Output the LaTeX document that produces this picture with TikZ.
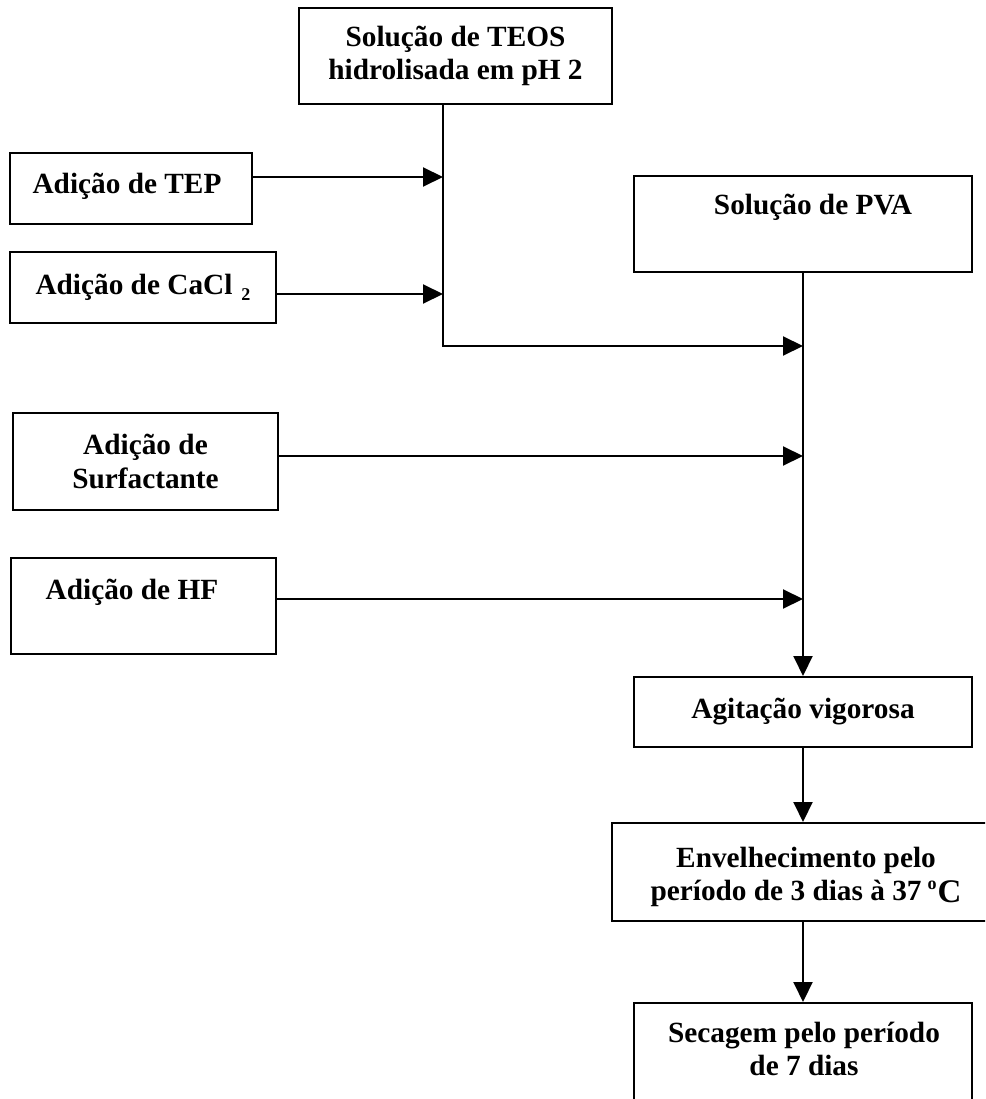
\documentclass[tikz,border=0pt]{standalone}
\usepackage{fontspec}
\setmainfont{Liberation Serif}
\usetikzlibrary{arrows.meta}
\begin{document}
\begin{tikzpicture}[x=1pt,y=-1pt,
  box/.style={draw, line width=2pt, inner sep=0pt, align=center,
    font=\fontsize{29.3}{33.5}\selectfont\bfseries},
  txt/.style={inner sep=0pt, align=center, font=\fontsize{29.3}{33.5}\selectfont\bfseries},
  arr/.style={line width=2pt, -{Triangle[length=20pt,width=19pt]}}]
\clip (0,0) rectangle (985,1099);
\fill[white] (0,0) rectangle (985,1099);
% boxes
\node[box, minimum width=313pt, minimum height=96pt] (teos) at (455.5,56)
  {Solução de TEOS\\hidrolisada em pH 2};
\node[box, minimum width=242pt, minimum height=71pt] (tep) at (131,188.5) {};
\node[txt] (tept) at (127,186) {Adição de TEP};
\node[box, minimum width=266pt, minimum height=71pt] (cacl) at (143,287.5)
  {Adição de CaCl\hspace{9pt}\raisebox{-6.5pt}{\fontsize{18}{18}\selectfont 2}};
\node[box, minimum width=338pt, minimum height=96pt] (pva) at (803,224) {};
\node[txt] (pvat) at (813,207) {Solução de PVA};
\node[box, minimum width=265pt, minimum height=97pt] (surf) at (145.5,461.5)
  {Adição de\\Surfactante};
\node[box, minimum width=265pt, minimum height=96pt] (hf) at (143.5,606) {};
\node[txt] (hft) at (132,592) {Adição de HF};
\node[box, minimum width=338pt, minimum height=70pt] (agit) at (803,712) {Agitação vigorosa};
\node[box, minimum width=382pt, minimum height=98pt] (env) at (803,872) {};
\node[txt] (envt) at (806,877)
  {Envelhecimento pelo\\período de 3 dias à 37\hspace{6pt}\raisebox{11pt}{\fontsize{18}{18}\selectfont o}\hspace{1pt}\raisebox{-2pt}{\fontsize{33}{33}\selectfont C}};
\node[box, minimum width=338pt, minimum height=110pt] (sec) at (803,1058) {};
\node[txt] (sect) at (804,1049) {Secagem pelo período\\de 7 dias};
% junction points
\coordinate (ja) at (443,346);
\coordinate (jtep) at (443,177);
\coordinate (jcacl) at (443,294);
\coordinate (jsurf) at (803,456);
\coordinate (jhf) at (803,599);
% connectors
\draw[arr] (teos.south -| ja) -- (ja) -- (ja -| pva.south);
\draw[arr] (tep.east |- jtep) -- (jtep);
\draw[arr] (cacl.east |- jcacl) -- (jcacl);
\draw[arr] (surf.east |- jsurf) -- (jsurf);
\draw[arr] (hf.east |- jhf) -- (jhf);
\draw[arr] (pva.south) -- (agit.north);
\draw[arr] (agit.south) -- (env.north);
\draw[arr] (env.south) -- (sec.north);
\end{tikzpicture}
\end{document}
